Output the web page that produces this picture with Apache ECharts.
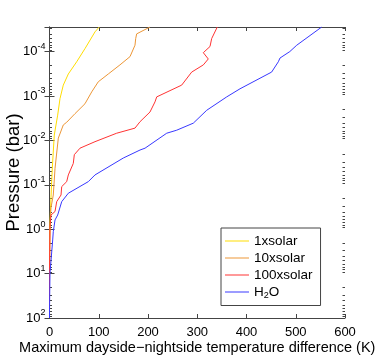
<!DOCTYPE html>
<html lang="en">
  <head>
    <meta charset="UTF-8" />
    <title>dayside-nightside temperature difference</title>
    <script src="https://cdn.jsdelivr.net/npm/echarts@6/dist/echarts.min.js"></script>
    <style>
      html, body { margin: 0; padding: 0; background: #fff; }
      #chart { width: 382px; height: 364px; }
    </style>
  </head>
  <body>
    <div id="chart"></div>
    <script>
      const FONT = "Liberation Sans";
      // [temperature difference (K), pressure (bar)]
      const solar1 = [
        [0, 100], [0, 10], [0.5, 1], [3, 0.2], [5.7, 0.042], [9.7, 0.0076],
        [16.6, 0.0027], [21.3, 0.00115], [28, 0.00057], [38.2, 0.00032],
        [55.2, 0.00017], [72, 0.000086], [92.4, 0.000036], [101, 0.000028]
      ];
      const solar10 = [
        [0, 100], [0, 10], [1, 0.8], [3, 0.33], [7.7, 0.17], [11.2, 0.043],
        [17.9, 0.0089], [28, 0.0045], [35, 0.0039], [51.8, 0.0025], [72, 0.0015],
        [85.7, 0.00081], [99, 0.00048], [119.4, 0.00032], [143, 0.0002],
        [163.5, 0.00013], [173.6, 0.000072], [175, 0.000051], [177, 0.00004],
        [204, 0.000028]
      ];
      const solar100 = [
        [0, 100], [0, 10], [1, 0.88], [3, 0.48], [11.2, 0.4], [14.6, 0.24],
        [23.4, 0.17], [24.8, 0.11], [34.9, 0.085], [38.2, 0.06], [48.3, 0.033],
        [50.4, 0.021], [61.9, 0.015], [92.4, 0.0107], [136.4, 0.0069],
        [173.6, 0.0053], [183.8, 0.0038], [204, 0.0023], [214.2, 0.00136],
        [217.7, 0.00105], [268.4, 0.00057], [288.7, 0.00029], [312.3, 0.0002],
        [322.4, 0.000147], [312.3, 0.000106], [325.9, 0.000077],
        [329.3, 0.000051], [340.7, 0.000028]
      ];
      const water = [
        [0, 100], [0, 66], [1, 9.7], [6.5, 1.75], [7.7, 1.14], [11.2, 0.62],
        [16.6, 0.48], [24.8, 0.24], [38.2, 0.155], [78.8, 0.085], [92.4, 0.06],
        [149.8, 0.025], [183.8, 0.0165], [194, 0.015], [238, 0.0069],
        [258.3, 0.0059], [292, 0.0041], [319.2, 0.0021], [359.8, 0.00105],
        [386.8, 0.00069], [451, 0.00029], [464.6, 0.00017], [468, 0.00014],
        [488, 0.0001], [502, 0.000072], [552.7, 0.000028]
      ];
      const seriesNames = ["1xsolar", "10xsolar", "100xsolar", "H2O"];
      const seriesColors = ["#FFDD00", "#EC9636", "#FF3333", "#3838FF"];
      const xTicks = [0, 100, 200, 300, 400, 500, 600];
      const pMin = 2.8e-5;
      const pMax = 100;

      // minor log ticks: 2..9 x 10^n inside the axis range
      const minorTicks = [];
      for (let n = -5; n <= 1; n++) {
        for (let k = 2; k <= 9; k++) {
          const v = k * Math.pow(10, n);
          if (v > pMin && v < pMax) minorTicks.push([0, v]);
        }
      }

      const chart = echarts.init(document.getElementById("chart"));

      const boxLine = { show: true, lineStyle: { color: "#444", width: 1 } };
      const yLabel = (v) => {
        const lg = Math.log10(v);
        const e = Math.round(lg);
        if (Math.abs(lg - e) > 0.01) return "";
        return "{b|10}{s|" + e + "}";
      };

      const lines = [solar1, solar10, solar100, water].map((d, i) => ({
        name: seriesNames[i],
        type: "line",
        data: d,
        symbol: "none",
        smooth: false,
        lineStyle: { color: seriesColors[i], width: 1 },
        itemStyle: { color: seriesColors[i] },
        z: 3,
      }));

      const option = {
        animation: false,
        backgroundColor: "#fff",
        textStyle: { fontFamily: FONT },
        grid: {
          left: 49.5, right: 37, top: 27, bottom: 46,
          containLabel: false, outerBoundsMode: "none",
        },
        legend: {
          orient: "vertical",
          left: 221,
          top: 228,
          width: 97,
          padding: [5, 8, 5, 4],
          itemGap: 1,
          icon: "rect",
          itemWidth: 24,
          itemHeight: 1,
          backgroundColor: "#fff",
          borderColor: "#444",
          borderWidth: 1,
          borderRadius: 0,
          data: seriesNames,
          formatter: (name) => (name === "H2O" ? "{t|H}{sub|2}{t|O}" : name),
          textStyle: {
            fontFamily: FONT,
            fontSize: 13.5,
            color: "#000",
            lineHeight: 16,
            rich: {
              t: { fontFamily: FONT, fontSize: 13.5, color: "#000" },
              sub: { fontFamily: FONT, fontSize: 9, color: "#000", padding: [8, 0, 0, 0] },
            },
          },
        },
        xAxis: [
          {
            type: "value",
            min: 0,
            max: 600,
            interval: 100,
            name: "Maximum dayside\u2212nightside temperature difference (K)",
            nameLocation: "middle",
            nameGap: 22,
            nameMoveOverlap: false,
            nameTextStyle: { fontFamily: FONT, fontSize: 14.5, color: "#000" },
            axisLine: boxLine,
            axisTick: { inside: true, length: 4, lineStyle: { color: "#444" } },
            axisLabel: {
              fontFamily: FONT, fontSize: 13, color: "#000", margin: 8,
              formatter: (v) => (xTicks.includes(v) ? String(v) : ""),
            },
            splitLine: { show: false },
          },
          {
            type: "value",
            position: "top",
            min: 0,
            max: 600,
            interval: 100,
            axisLine: boxLine,
            axisTick: { inside: true, length: 4, lineStyle: { color: "#444" } },
            axisLabel: { show: false },
            splitLine: { show: false },
          },
        ],
        yAxis: [
          {
            type: "log",
            logBase: 10,
            inverse: true,
            min: pMin,
            max: pMax,
            name: "Pressure (bar)",
            nameLocation: "middle",
            nameGap: 26,
            nameMoveOverlap: false,
            nameTextStyle: { fontFamily: FONT, fontSize: 18.5, color: "#000" },
            axisLine: boxLine,
            axisTick: { inside: true, length: 5, lineStyle: { color: "#444" } },
            axisLabel: {
              margin: 4,
              formatter: yLabel,
              rich: {
                b: { fontFamily: FONT, fontSize: 13, color: "#000" },
                s: { fontFamily: FONT, fontSize: 9, color: "#000", padding: [0, 0, 10, 0] },
              },
            },
            splitLine: { show: false },
          },
          {
            type: "log",
            logBase: 10,
            inverse: true,
            position: "right",
            min: pMin,
            max: pMax,
            axisLine: boxLine,
            axisTick: { inside: true, length: 5, lineStyle: { color: "#444" } },
            axisLabel: { show: false },
            splitLine: { show: false },
          },
        ],
        series: [
          ...lines,
          {
            type: "custom",
            silent: true,
            xAxisIndex: 0,
            yAxisIndex: 0,
            z: 2,
            data: minorTicks,
            renderItem: (params, api) => {
              const cs = params.coordSys;
              const y = Math.round(api.coord([0, api.value(1)])[1]) + 0.5;
              const st = { stroke: "#444", lineWidth: 1 };
              return {
                type: "group",
                children: [
                  { type: "line", shape: { x1: cs.x, y1: y, x2: cs.x + 2.5, y2: y }, style: st },
                  { type: "line", shape: { x1: cs.x + cs.width - 2.5, y1: y, x2: cs.x + cs.width, y2: y }, style: st },
                ],
              };
            },
          },
        ],
      };

      chart.setOption(option);
    </script>
  </body>
</html>
